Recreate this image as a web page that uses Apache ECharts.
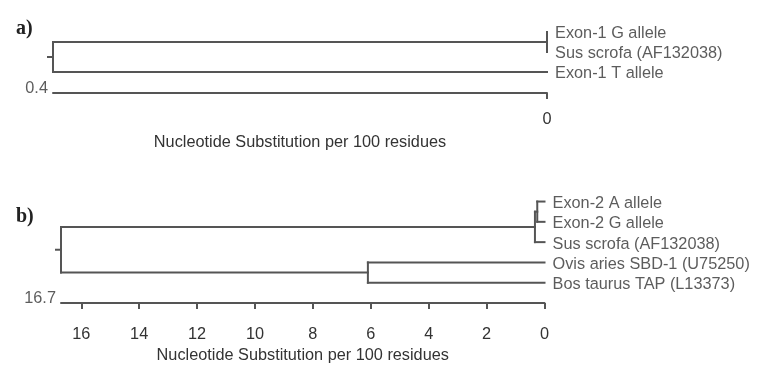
<!DOCTYPE html>
<html><head><meta charset="utf-8">
<script src="https://cdn.jsdelivr.net/npm/echarts@6/dist/echarts.min.js"></script>
<style>html,body{margin:0;padding:0;background:#fff}#c{width:764px;height:365px}</style>
</head><body><div id="c"></div>
<script>
// ---- Panel a) data ----
const leavesA = ['Exon-1 G allele', 'Sus scrofa (AF132038)', 'Exon-1 T allele'];
const nodeNamesA = ['n1', 'root'];
const nodeHeightsA = [0, 0.4];
const nodeChildrenA = [[0, 1], ['n1', 2]];
const scaleMaxA = 0.4;
const scaleTicksA = [0];

// ---- Panel b) data ----
const leavesB = ['Exon-2 A allele', 'Exon-2 G allele', 'Sus scrofa (AF132038)', 'Ovis aries SBD-1 (U75250)', 'Bos taurus TAP (L13373)'];
const nodeNamesB = ['n1', 'n2', 'n3', 'root'];
const nodeHeightsB = [0.25, 0.33, 6.1, 16.7];
const nodeChildrenB = [[0, 1], ['n1', 2], [3, 4], ['n2', 'n3']];
const scaleMaxB = 16.7;
const scaleTicksB = [0, 2, 4, 6, 8, 10, 12, 14, 16];

const axisTitle = 'Nucleotide Substitution per 100 residues';
const panelLabels = ['a)', 'b)'];

function buildTree(leaves, names, heights, children) {
  const pos = {};
  leaves.forEach((l, i) => { pos[i] = [0, i]; });
  names.forEach((n, k) => {
    const ys = children[k].map(c => pos[c][1]);
    pos[n] = [heights[k], (Math.min(...ys) + Math.max(...ys)) / 2];
  });
  const segs = [];
  names.forEach((n, k) => {
    const h = heights[k];
    const ys = children[k].map(c => pos[c][1]);
    segs.push([h, Math.min(...ys), h, Math.max(...ys), 0]);
    children[k].forEach(c => segs.push([h, pos[c][1], pos[c][0], pos[c][1], 0]));
  });
  const root = pos[names[names.length - 1]];
  segs.push([root[0], root[1], root[0], root[1], 1]);
  return segs;
}

const LINE = '#555';
const TXT = '#333';
const FONT = "'Liberation Sans', Arial, sans-serif";
const FS = 16.3;

function renderSeg(params, api) {
  const p1 = api.coord([api.value(0), api.value(1)]);
  let p2 = api.coord([api.value(2), api.value(3)]);
  if (api.value(4) === 1) p2 = [p1[0] - 5, p1[1]];
  return {
    type: 'line',
    shape: { x1: p1[0], y1: p1[1], x2: p2[0], y2: p2[1] },
    style: { stroke: LINE, lineWidth: 2, lineCap: 'square' }
  };
}

function xAxisCfg(gi, max, ticks, labelMargin, nameGap) {
  return {
    gridIndex: gi, type: 'value', min: 0, max: max, inverse: true,
    axisLine: { onZero: false, lineStyle: { color: LINE, width: 2 } },
    axisTick: { customValues: ticks, length: 6, lineStyle: { color: LINE, width: 2 } },
    axisLabel: { customValues: ticks, margin: labelMargin, fontSize: FS, color: TXT, fontFamily: FONT },
    splitLine: { show: false },
    name: axisTitle, nameLocation: 'middle', nameGap: nameGap,
    nameTextStyle: { fontSize: FS, color: TXT, fontFamily: FONT }
  };
}

function leafLabels(gi, leaves) {
  return {
    type: 'scatter', xAxisIndex: gi, yAxisIndex: gi,
    data: leaves.map((l, i) => [0, i, l]),
    symbolSize: 0.1, itemStyle: { color: 'transparent' },
    label: { show: true, position: 'right', distance: 8, offset: [0, 2], formatter: p => p.data[2],
      fontSize: FS, color: TXT, fontFamily: FONT },
    silent: true
  };
}

function scaleLabel(gi, max, yMax) {
  return {
    type: 'scatter', xAxisIndex: gi, yAxisIndex: gi,
    data: [[max, yMax, String(max)]],
    symbolSize: 0.1, itemStyle: { color: 'transparent' },
    label: { show: true, position: 'left', distance: 5, offset: [0, -4], formatter: p => p.data[2],
      fontSize: FS, color: TXT, fontFamily: FONT },
    silent: true
  };
}

const yMaxA = 3.05, yMaxB = 5;

const chart = echarts.init(document.getElementById('c'));
chart.setOption({
  animation: false,
  backgroundColor: '#fff',
  title: [
    { text: panelLabels[0], left: 11, top: 14, textStyle: { fontFamily: "'Liberation Serif', serif", fontWeight: 'bold', fontSize: 20, color: '#222' } },
    { text: panelLabels[1], left: 11, top: 202, textStyle: { fontFamily: "'Liberation Serif', serif", fontWeight: 'bold', fontSize: 20, color: '#222' } }
  ],
  grid: [
    { left: 53, right: 217, top: 22, bottom: 272 },
    { left: 61, right: 219.5, top: 191.4, bottom: 57 }
  ],
  xAxis: [
    xAxisCfg(0, scaleMaxA, scaleTicksA, 19, 42),
    xAxisCfg(1, scaleMaxB, scaleTicksB, 24, 45)
  ],
  yAxis: [
    { gridIndex: 0, type: 'value', min: -0.5, max: yMaxA, inverse: true, show: false },
    { gridIndex: 1, type: 'value', min: -0.5, max: yMaxB, inverse: true, show: false }
  ],
  series: [
    { type: 'custom', xAxisIndex: 0, yAxisIndex: 0, clip: false, renderItem: renderSeg,
      encode: { x: [0, 2], y: [1, 3] }, data: buildTree(leavesA, nodeNamesA, nodeHeightsA, nodeChildrenA) },
    { type: 'custom', xAxisIndex: 1, yAxisIndex: 1, clip: false, renderItem: renderSeg,
      encode: { x: [0, 2], y: [1, 3] }, data: buildTree(leavesB, nodeNamesB, nodeHeightsB, nodeChildrenB) },
    leafLabels(0, leavesA),
    leafLabels(1, leavesB),
    scaleLabel(0, scaleMaxA, yMaxA),
    scaleLabel(1, scaleMaxB, yMaxB)
  ]
});
</script>
</body></html>
